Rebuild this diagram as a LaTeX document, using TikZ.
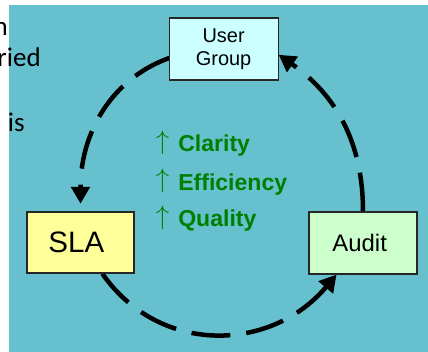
\RequirePackage{fix-cm}
\documentclass[tikz,border=0pt]{standalone}
\usepackage{fontspec}
\setmainfont{Liberation Sans}
\newfontfamily\bodyfont{Carlito}
\usetikzlibrary{arrows.meta}
\pgfdeclarelayer{bg}
\pgfsetlayers{bg,main}
\definecolor{sea}{RGB}{103,192,206}
\definecolor{paleblue}{RGB}{204,255,255}
\definecolor{paleyellow}{RGB}{255,255,153}
\definecolor{palegreen}{RGB}{204,255,204}
\definecolor{gaingreen}{RGB}{0,128,0}
\tikzset{
    box/.style={draw=black!85, line width=0.8pt, inner sep=0pt, align=center, text=black},
    loopline/.style={line width=3.2pt, dash pattern=on 27.7pt off 11.4pt,
        -{Triangle[length=12pt,width=13pt]}},
    gain/.style={text=gaingreen, font=\fontsize{16.4}{19}\selectfont\bfseries, anchor=base west, inner sep=0pt},
    uparrow/.style={text=gaingreen, font=\fontsize{19}{22}\selectfont, anchor=base, inner sep=0pt},
    clipped/.style={font=\bodyfont\fontsize{19.2}{23}\selectfont, anchor=base east, inner sep=0pt}
}
\begin{document}
\begin{tikzpicture}
        \path[use as bounding box, clip] (-5.55,-4) rectangle (5.15,4.8);
        \node[clipped] (TXTA) at (-5.35,3.9) {n};
        \node[clipped] (TXTB) at (-4.525,3.125) {ried};
        \node[clipped] (TXTC) at (-4.925,1.5125) {n is};
        \node[box, fill=paleblue, minimum width=2.725cm, minimum height=1.55cm,
            font=\fontsize{14.2}{16.4}\selectfont] (USER) at (0.04,3.575) {
            User\\Group
        };
        \node[box, fill=paleyellow, minimum width=2.675cm, minimum height=1.525cm,
            font=\fontsize{21}{24}\selectfont] (SLA) at (-3.5375,-1.2625) {
            SLA
        };
        \node[box, fill=palegreen, minimum width=2.7cm, minimum height=1.55cm,
            font=\fontsize{17}{20}\selectfont] (AUDIT) at (3.525,-1.275) {
            Audit
        };
        \node[uparrow] (UPCLAR) at (-1.4875,1.05) {$\uparrow$};
        \node[gain] (CLAR) at (-1.1,1.0) {Clarity};
        \node[uparrow] (UPEFF) at (-1.4875,0.1) {$\uparrow$};
        \node[gain] (EFF) at (-1.1,0.05) {Efficiency};
        \node[uparrow] (UPQUAL) at (-1.4875,-0.825) {$\uparrow$};
        \node[gain] (QUAL) at (-1.1,-0.875) {Quality};
        \begin{pgfonlayer}{bg}
            \fill[white] (-5.55,-4) rectangle (5.15,4.8);
            \fill[sea] (-5.325,-4) rectangle (5.15,4.675);
            \draw[loopline, shorten >=5.5pt] (USER.center) to[out=180, in=90, looseness=1.1] (SLA);
            \draw[loopline] (SLA) to[out=-55, in=-130, looseness=1.1] (AUDIT);
            \draw[loopline] (AUDIT) to[out=90, in=-35] (USER.-6);
        \end{pgfonlayer}
\end{tikzpicture}
\end{document}
